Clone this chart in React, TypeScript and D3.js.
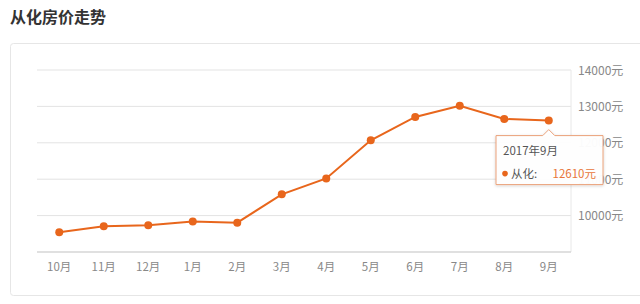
import React from "react";
import * as d3 from "d3";

const months = ["10月", "11月", "12月", "1月", "2月", "3月", "4月", "5月", "6月", "7月", "8月", "9月"];
const prices = [9540, 9705, 9735, 9835, 9805, 10585, 11020, 12070, 12710, 13020, 12655, 12610];
const yTicks = [10000, 11000, 12000, 13000, 14000];
const seriesName = "从化";
const tooltipTitle = "2017年9月";

const W = 640, H = 304;
const left = 37, right = 571, top = 70, bottom = 252;
const orange = "#e8661c";
const font = "'Noto Sans CJK SC', 'Noto Sans', sans-serif";

export default function App() {
  const x = d3.scaleBand<string>().domain(months).range([left, right]);
  const y = d3.scaleLinear().domain([9000, 14000]).range([bottom, top]);
  const cx = (m: string) => (x(m) as number) + x.bandwidth() / 2;
  const line = d3.line<number>().x((_, i) => cx(months[i])).y((d) => y(d));
  const last = months.length - 1;
  const tx = cx(months[last]);
  const ty = y(prices[last]);
  const boxL = 496, boxR = 603, boxT = ty + 15, boxB = ty + 64;
  return (
    <svg width={W} height={H} style={{ position: "absolute", left: 0, top: 0, background: "#fff" }} fontFamily={font}>
      <defs>
        <filter id="sh" x="-20%" y="-20%" width="140%" height="150%">
          <feDropShadow dx="0" dy="1" stdDeviation="1.5" floodColor="#000" floodOpacity="0.18" />
        </filter>
      </defs>
      <text x={10} y={23} fontSize={16} fontWeight="bold" fill="#333">从化房价走势</text>
      <rect x={10.5} y={43.5} width={640} height={252} rx={3} fill="none" stroke="#e6e6e6" />
      {yTicks.map((t) => (
        <g key={t}>
          <line x1={left} x2={right} y1={y(t)} y2={y(t)} stroke="#e3e3e3" />
          <text x={578} y={y(t) + 4.5} fontSize={12} fill="#888">{t}元</text>
        </g>
      ))}
      <line x1={right} x2={right} y1={top} y2={bottom} stroke="#e8e8e8" />
      <line x1={left} x2={right} y1={bottom} y2={bottom} stroke="#d6d6d6" strokeWidth={1.5} />
      {months.map((m) => (
        <text key={m} x={cx(m)} y={bottom + 19} fontSize={11.5} fill="#888" textAnchor="middle">{m}</text>
      ))}
      <path d={line(prices) || ""} fill="none" stroke={orange} strokeWidth={2} />
      {prices.map((p, i) => (
        <circle key={i} cx={cx(months[i])} cy={y(p)} r={4} fill={orange} />
      ))}
      <g filter="url(#sh)">
        <path
          d={`M${boxL},${boxT} H${tx - 6} L${tx},${boxT - 6} L${tx + 6},${boxT} H${boxR} V${boxB} H${boxL} Z`}
          fill="rgba(255,255,255,0.96)"
          stroke="#eba27a"
        />
      </g>
      <text x={503} y={boxT + 19} fontSize={11.5} fill="#555">{tooltipTitle}</text>
      <circle cx={505} cy={boxT + 38} r={2.8} fill={orange} />
      <text x={511} y={boxT + 42} fontSize={11.5} fill="#555">{seriesName}:</text>
      <text x={596} y={boxT + 42} fontSize={11.5} fill="#e8763a" textAnchor="end">{prices[last]}元</text>
    </svg>
  );
}
